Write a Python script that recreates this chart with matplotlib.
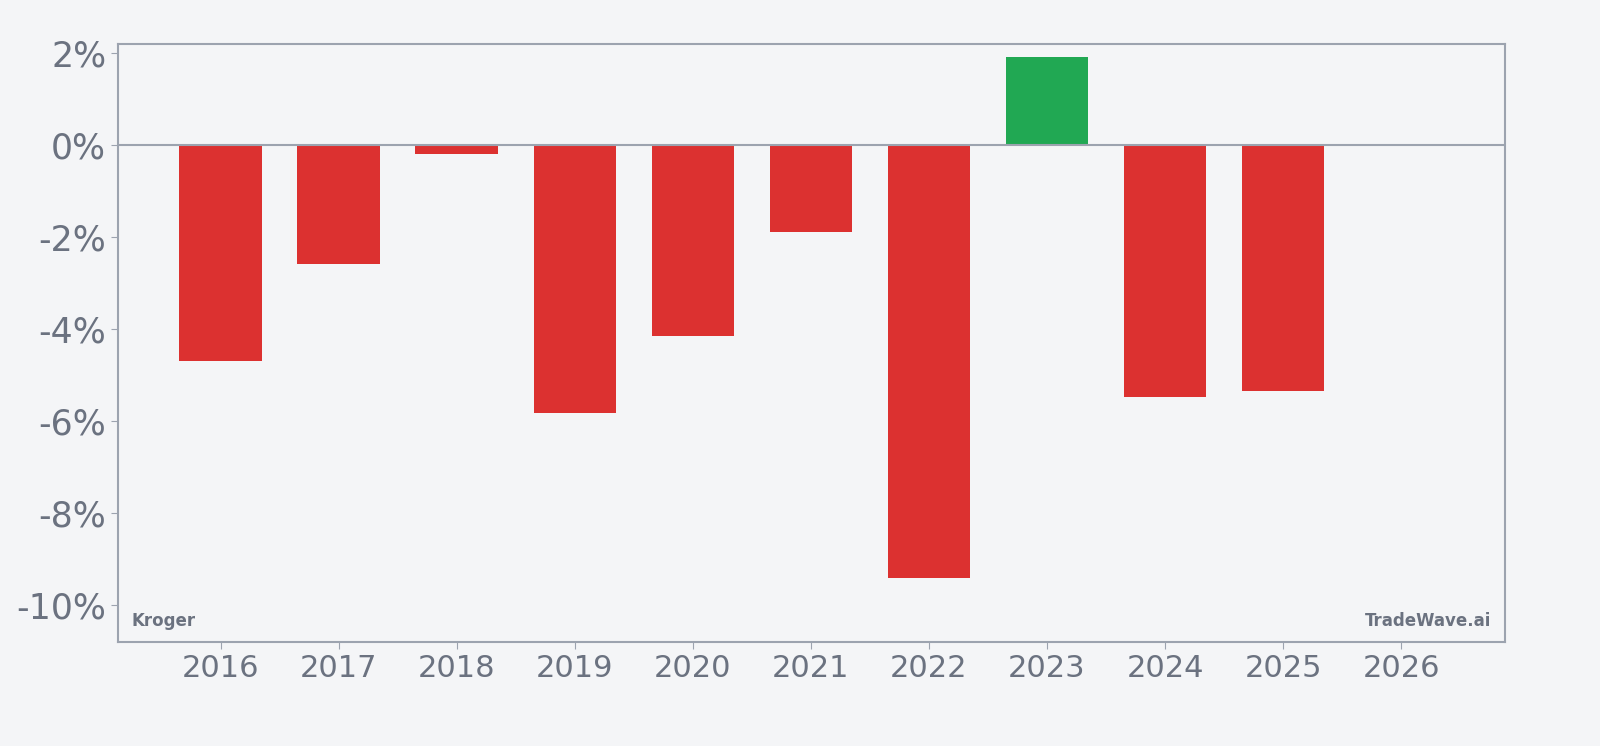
import matplotlib
matplotlib.use("Agg")
import matplotlib.pyplot as plt
from matplotlib.ticker import FuncFormatter

years = [2016, 2017, 2018, 2019, 2020, 2021, 2022, 2023, 2024, 2025]
values = [-4.70, -2.59, -0.20, -5.83, -4.15, -1.89, -9.41, 1.91, -5.48, -5.35]
xticks = list(range(2016, 2027))
yticks = [2, 0, -2, -4, -6, -8, -10]

bg = "#f4f5f7"
grey = "#6b7280"
spine = "#9ca3af"
fig = plt.figure(figsize=(16, 7.46), dpi=100, facecolor=bg)
ax = fig.add_axes([118/1600, 1-642/746, (1505-118)/1600, (642-44)/746], facecolor=bg)
colors = ["#21a853" if v > 0 else "#dc3130" for v in values]
ax.bar(years, values, width=0.7, color=colors, zorder=2)
ax.axhline(0, color=spine, lw=1.5, zorder=3)
ax.set_xlim(2015.13, 2026.88)
ax.set_ylim(-10.80, 2.196)
ax.set_xticks(xticks)
ax.set_yticks(yticks)
ax.yaxis.set_major_formatter(FuncFormatter(lambda v, p: f"{v:.0f}%"))
ax.tick_params(axis="x", labelsize=22, colors=grey, length=5, color=spine)
ax.tick_params(axis="y", labelsize=25, colors=grey, length=5, color=spine)
for s in ax.spines.values():
    s.set_color(spine)
    s.set_linewidth(1.5)
ax.text(0.01, 0.02, "Kroger", transform=ax.transAxes, fontsize=12, color=grey, fontweight="bold", ha="left", va="bottom")
ax.text(0.99, 0.02, "TradeWave.ai", transform=ax.transAxes, fontsize=12, color=grey, fontweight="bold", ha="right", va="bottom")
fig.savefig("out.png", dpi=100, facecolor=bg)
